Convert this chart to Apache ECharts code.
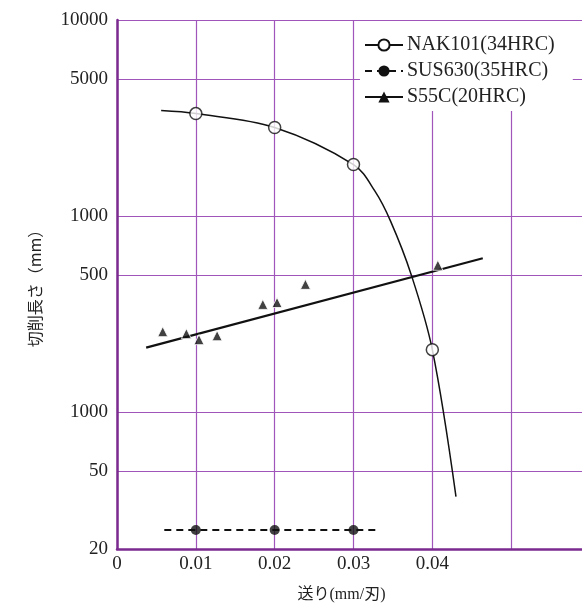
<!DOCTYPE html>
<html>
<head>
<meta charset="utf-8">
<script src="https://cdn.jsdelivr.net/npm/echarts@6/dist/echarts.min.js"></script>
<style>html,body{margin:0;padding:0;background:#fff}#c{width:582px;height:606px}</style>
</head>
<body>
<div id="c"></div>
<script>
// x tick values / labels
const xTicks = [0, 0.01, 0.02, 0.03, 0.04, 0.05];
const xTickLabels = ['0', '0.01', '0.02', '0.03', '0.04', ''];
// y tick values / labels (as printed in the original)
const yTicks = [20, 50, 100, 500, 1000, 5000, 10000];
const yTickLabels = ['20', '50', '1000', '500', '1000', '5000', '10000'];

// NAK101 measured points
const nakX = [0.01, 0.02, 0.03, 0.04];
const nakY = [3330, 2830, 1830, 208];
// NAK101 drawn trend curve
const nakCurveX = [0.0056, 0.01, 0.02, 0.03, 0.0327, 0.0347, 0.0373, 0.04, 0.0430];
const nakCurveY = [3450, 3330, 2830, 1830, 1343, 942, 505, 208, 37];

// SUS630 measured points and dashed line
const susX = [0.01, 0.02, 0.03];
const susY = [25, 25, 25];
const susLineX = [0.006, 0.0331];
const susLineY = [25, 25];

// S55C measured points and fitted line
const s55X = [0.0058, 0.0088, 0.0104, 0.0127, 0.0185, 0.0203, 0.0239, 0.0407];
const s55Y = [257, 251, 234, 245, 354, 362, 448, 561];
const s55LineX = [0.0037, 0.0464];
const s55LineY = [213, 609];

const names = ['NAK101(34HRC)', 'SUS630(35HRC)', 'S55C(20HRC)'];

const zip = (a, b) => a.map((v, i) => [v, b[i]]);
const serif = '"Liberation Serif", "Noto Sans CJK JP", serif';
const gridColor = '#a055ba';
const axisColor = '#7b2a8f';

const chart = echarts.init(document.getElementById('c'), null, {renderer: 'canvas'});
chart.setOption({
  animation: false,
  backgroundColor: '#fff',
  grid: {left: 117, top: 20, width: 473, bottom: 57, containLabel: false, outerBoundsMode: 'none'},
  xAxis: {
    type: 'value', min: 0, max: 0.06, interval: 0.01,
    name: '送り(mm/刃)', nameLocation: 'middle', nameGap: 38,
    nameTextStyle: {fontFamily: serif, fontSize: 16, color: '#222', padding: [0, 24, 0, 0]},
    axisLine: {show: true, onZero: false, lineStyle: {color: axisColor, width: 2.5}},
    axisTick: {show: false},
    axisLabel: {
      fontFamily: serif, fontSize: 19, color: '#222', margin: 6,
      formatter: v => { const i = xTicks.findIndex(t => Math.abs(t - v) < 1e-9); return i >= 0 ? xTickLabels[i] : ''; }
    },
    splitLine: {show: true, lineStyle: {color: gridColor, width: 1.2}}
  },
  yAxis: {
    type: 'log', logBase: 10, min: 20, max: 10000,
    name: '切削長さ（mm）', nameLocation: 'middle', nameGap: 74,
    nameTextStyle: {fontFamily: '"Noto Sans CJK JP", sans-serif', fontSize: 16, color: '#222'},
    axisLine: {show: true, lineStyle: {color: axisColor, width: 2.5}},
    axisTick: {show: false, customValues: yTicks},
    axisLabel: {
      customValues: yTicks,
      fontFamily: serif, fontSize: 19, color: '#222', margin: 9,
      formatter: v => { const i = yTicks.findIndex(t => Math.abs(t - v) < 1e-6 * t); return i >= 0 ? yTickLabels[i] : ''; }
    },
    splitLine: {show: true, lineStyle: {color: gridColor, width: 1.2}}
  },
  legend: {
    data: names,
    left: 360, top: 21,
    orient: 'vertical',
    backgroundColor: '#fff',
    padding: [14, 18, 4, 4],
    itemWidth: 38, itemHeight: 14, itemGap: 6,
    textStyle: {fontFamily: serif, fontSize: 20, color: '#222', padding: [0, 0, 0, -1]},
    selectedMode: false
  },
  series: [
    {
      name: names[0], type: 'line', data: zip(nakCurveX, nakCurveY),
      smooth: 0.35, symbol: 'emptyCircle', showSymbol: false, symbolSize: 12,
      lineStyle: {color: '#111', width: 1.5}, itemStyle: {color: '#111'}, z: 3
    },
    {
      name: 'nak-pts', type: 'scatter', data: zip(nakX, nakY),
      symbol: 'circle', symbolSize: 12,
      itemStyle: {color: '#fff', borderColor: '#111', borderWidth: 1.5}, z: 5
    },
    {
      name: names[1], type: 'line', data: zip(susLineX, susLineY),
      symbol: 'circle', showSymbol: false, symbolSize: 12,
      lineStyle: {color: '#111', width: 1.8, type: [7, 5]}, itemStyle: {color: '#111'}, z: 3
    },
    {
      name: 'sus-pts', type: 'scatter', data: zip(susX, susY),
      symbol: 'circle', symbolSize: 10,
      itemStyle: {color: '#111'}, z: 5
    },
    {
      name: names[2], type: 'line', data: zip(s55LineX, s55LineY),
      symbol: 'triangle', showSymbol: false, symbolSize: 13,
      lineStyle: {color: '#111', width: 2.2}, itemStyle: {color: '#111'}, z: 3
    },
    {
      name: 's55-pts', type: 'scatter', data: zip(s55X, s55Y),
      symbol: 'triangle', symbolSize: 10,
      itemStyle: {color: '#111', borderColor: '#fff', borderWidth: 1}, z: 5
    }
  ]
});
</script>
</body>
</html>
